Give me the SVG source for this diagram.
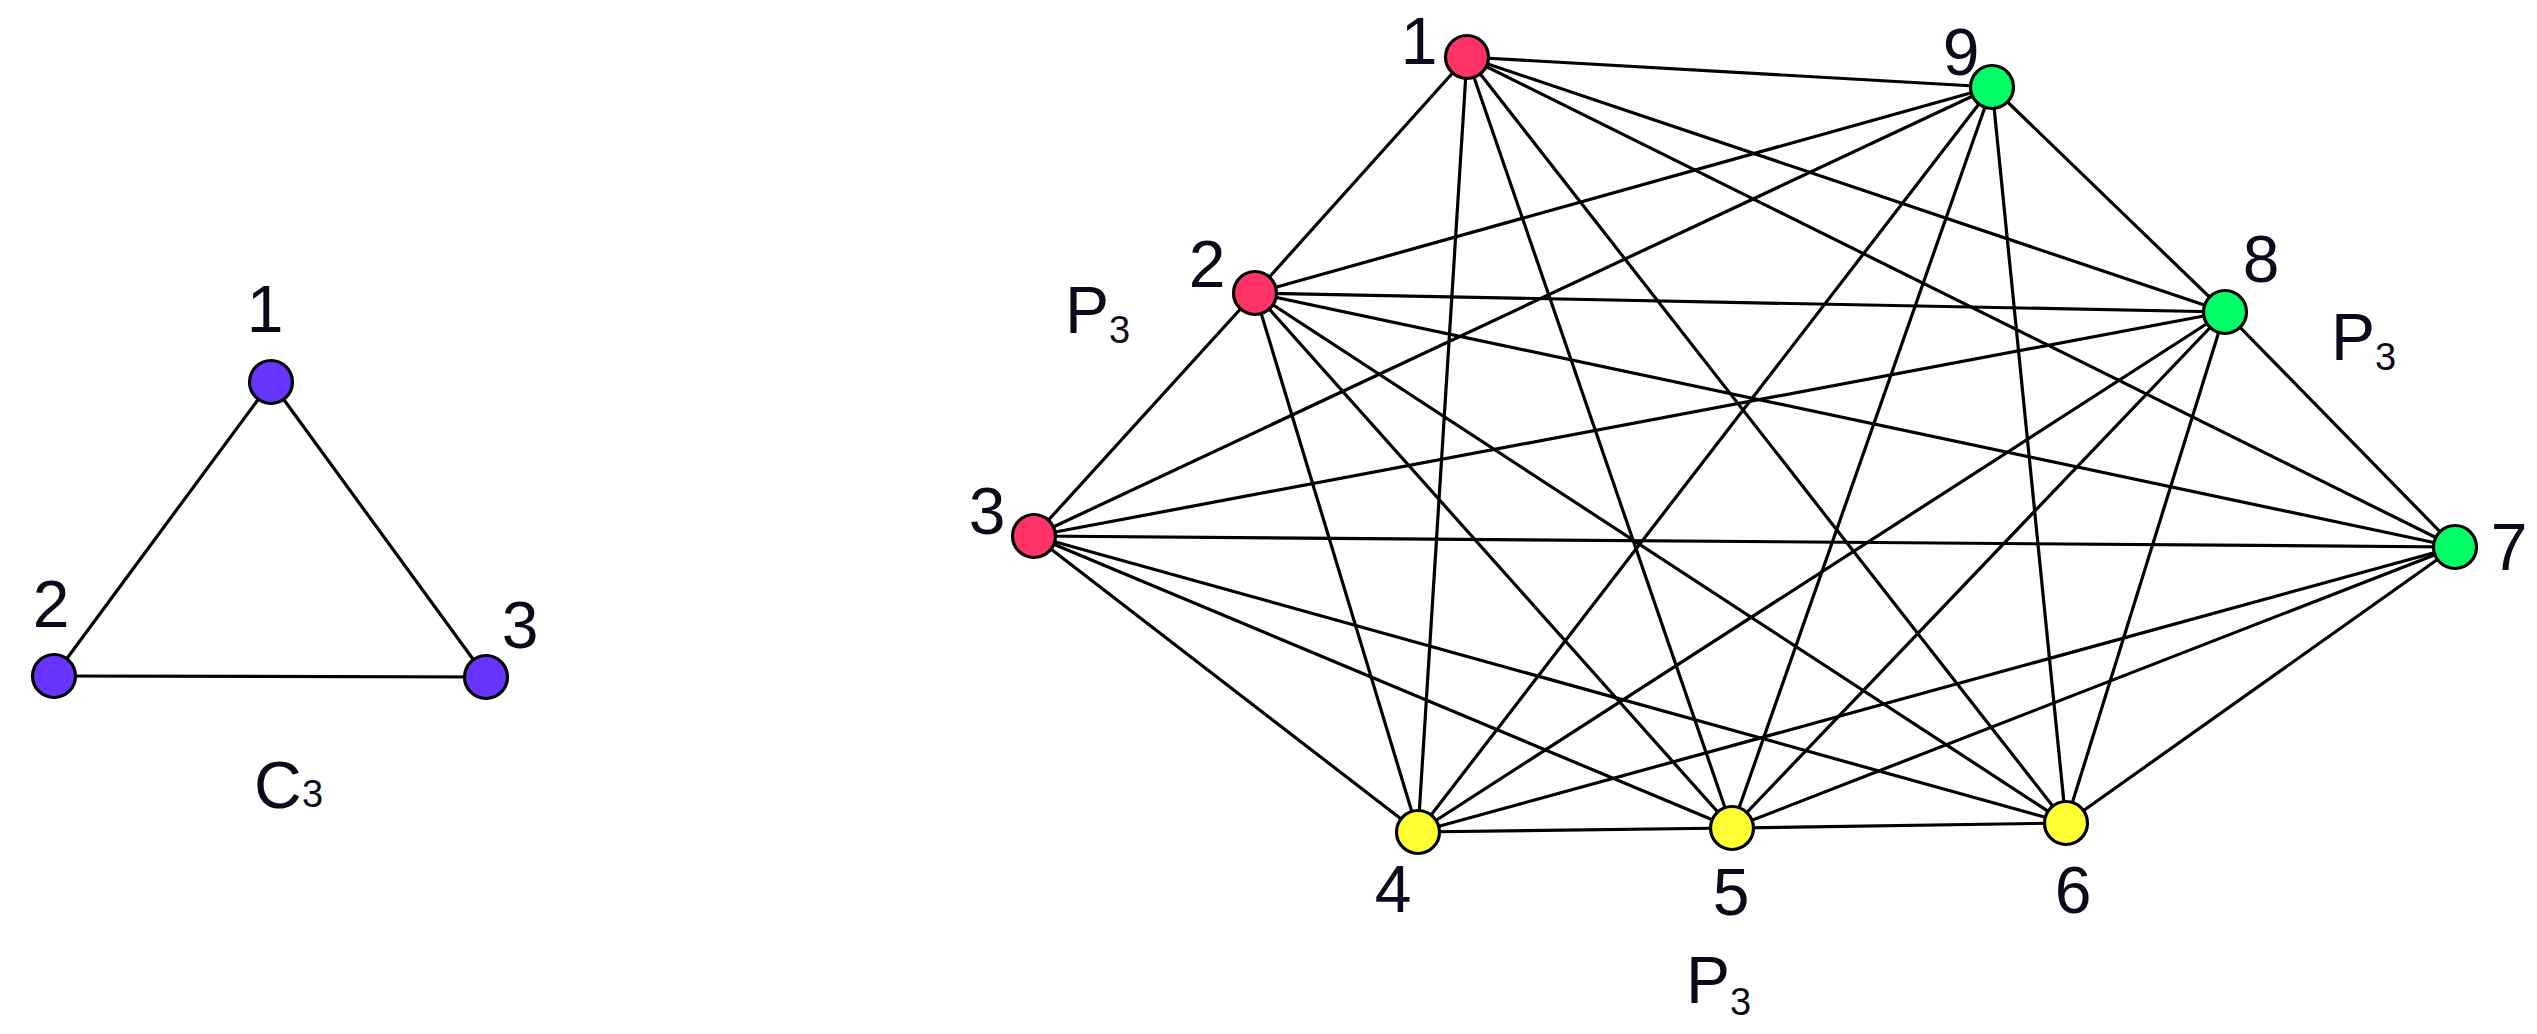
<svg xmlns="http://www.w3.org/2000/svg" width="2537" height="1034" viewBox="0 0 2537 1034">
<style>
.e{stroke:#000;stroke-width:3.2;fill:none}
.n{stroke:#000;stroke-width:3.2}
.pu{fill:#6633FF}.rd{fill:#FF3366}.gr{fill:#00FF66}.ye{fill:#FFFF33}
.t{font-family:"Liberation Sans",Arial,sans-serif;font-size:66px;fill:#0a0a1a}
.tm{text-anchor:middle}
</style>
<rect width="2537" height="1034" fill="#fff"/>
<g id="connectors">
<line class="e" x1="271" y1="382" x2="54" y2="676"/>
<line class="e" x1="271" y1="382" x2="486" y2="677"/>
<line class="e" x1="54" y1="676" x2="486" y2="677"/>
<line class="e" x1="1467" y1="57" x2="1255" y2="293"/>
<line class="e" x1="1255" y1="293" x2="1034" y2="536"/>
<line class="e" x1="1418" y1="832" x2="1732" y2="828"/>
<line class="e" x1="1732" y1="828" x2="2066" y2="823"/>
<line class="e" x1="2455" y1="547" x2="2225" y2="312"/>
<line class="e" x1="2225" y1="312" x2="1992" y2="87"/>
<line class="e" x1="1467" y1="57" x2="1418" y2="832"/>
<line class="e" x1="1467" y1="57" x2="1732" y2="828"/>
<line class="e" x1="1467" y1="57" x2="2066" y2="823"/>
<line class="e" x1="1467" y1="57" x2="2455" y2="547"/>
<line class="e" x1="1467" y1="57" x2="2225" y2="312"/>
<line class="e" x1="1467" y1="57" x2="1992" y2="87"/>
<line class="e" x1="1255" y1="293" x2="1418" y2="832"/>
<line class="e" x1="1255" y1="293" x2="1732" y2="828"/>
<line class="e" x1="1255" y1="293" x2="2066" y2="823"/>
<line class="e" x1="1255" y1="293" x2="2455" y2="547"/>
<line class="e" x1="1255" y1="293" x2="2225" y2="312"/>
<line class="e" x1="1255" y1="293" x2="1992" y2="87"/>
<line class="e" x1="1034" y1="536" x2="1418" y2="832"/>
<line class="e" x1="1034" y1="536" x2="1732" y2="828"/>
<line class="e" x1="1034" y1="536" x2="2066" y2="823"/>
<line class="e" x1="1034" y1="536" x2="2455" y2="547"/>
<line class="e" x1="1034" y1="536" x2="2225" y2="312"/>
<line class="e" x1="1034" y1="536" x2="1992" y2="87"/>
<line class="e" x1="1418" y1="832" x2="2455" y2="547"/>
<line class="e" x1="1418" y1="832" x2="2225" y2="312"/>
<line class="e" x1="1418" y1="832" x2="1992" y2="87"/>
<line class="e" x1="1732" y1="828" x2="2455" y2="547"/>
<line class="e" x1="1732" y1="828" x2="2225" y2="312"/>
<line class="e" x1="1732" y1="828" x2="1992" y2="87"/>
<line class="e" x1="2066" y1="823" x2="2455" y2="547"/>
<line class="e" x1="2066" y1="823" x2="2225" y2="312"/>
<line class="e" x1="2066" y1="823" x2="1992" y2="87"/>
</g>
<g id="c3-node1"><circle class="n pu" cx="271" cy="382" r="21.5"/><text class="t tm" x="265" y="332">1</text></g>
<g id="c3-node2"><circle class="n pu" cx="54" cy="676" r="21.5"/><text class="t tm" x="51" y="627">2</text></g>
<g id="c3-node3"><circle class="n pu" cx="486" cy="677" r="21.5"/><text class="t tm" x="520" y="648">3</text></g>
<g id="c3-label"><text class="t" x="254" y="808" font-size="64">C</text><text class="t" x="302" y="807" style="font-size:38px">3</text></g>
<g id="node1"><circle class="n rd" cx="1467" cy="57" r="21.5"/><text class="t tm" x="1419" y="64">1</text></g>
<g id="node2"><circle class="n rd" cx="1255" cy="293" r="21.5"/><text class="t tm" x="1207" y="287">2</text></g>
<g id="node3"><circle class="n rd" cx="1034" cy="536" r="21.5"/><text class="t tm" x="987" y="534">3</text></g>
<g id="node4"><circle class="n ye" cx="1418" cy="832" r="21.5"/><text class="t tm" x="1393" y="912">4</text></g>
<g id="node5"><circle class="n ye" cx="1732" cy="828" r="21.5"/><text class="t tm" x="1731" y="915">5</text></g>
<g id="node6"><circle class="n ye" cx="2066" cy="823" r="21.5"/><text class="t tm" x="2073" y="913">6</text></g>
<g id="node7"><circle class="n gr" cx="2455" cy="547" r="21.5"/><text class="t tm" x="2509" y="570">7</text></g>
<g id="node8"><circle class="n gr" cx="2225" cy="312" r="21.5"/><text class="t tm" x="2261" y="282">8</text></g>
<g id="node9"><circle class="n gr" cx="1992" cy="87" r="21.5"/><text class="t tm" x="1961" y="75">9</text></g>
<g id="label-p3-left"><text class="t" x="1065" y="333">P<tspan style="font-size:38px" dy="10">3</tspan></text></g>
<g id="label-p3-right"><text class="t" x="2331" y="360">P<tspan style="font-size:38px" dy="10">3</tspan></text></g>
<g id="label-p3-bottom"><text class="t" x="1686" y="1003">P<tspan style="font-size:38px" dy="12">3</tspan></text></g>
</svg>
